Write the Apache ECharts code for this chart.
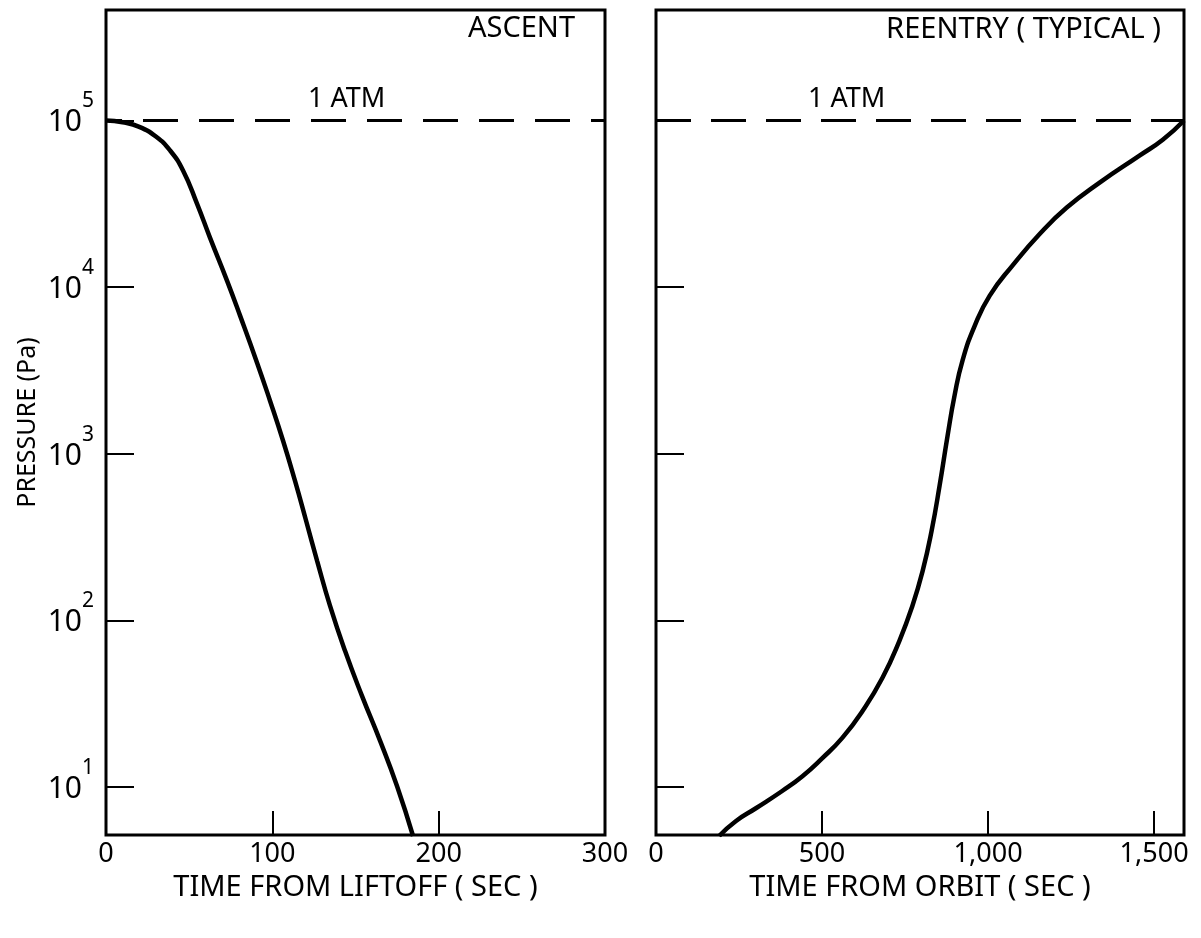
<!DOCTYPE html>
<html>
<head>
<meta charset="utf-8">
<script src="https://cdn.jsdelivr.net/npm/echarts@6/dist/echarts.min.js"></script>
<style>
  html, body { margin: 0; padding: 0; background: #fff; }
  #chart { width: 1201px; height: 938px; }
</style>
</head>
<body>
<div id="chart"></div>
<script>
  // ascent: time from liftoff (s) vs pressure (Pa)
  const ascentTime = [0, 10, 20, 30, 38.5, 46.3, 54.7, 62.5, 72.8, 80.6, 90.8, 98.6, 106.4, 113.6, 120.3, 127, 134.7, 143.7, 153.9, 164.8, 175, 184.6];
  const ascentPressure = [100000, 97500, 91500, 80000, 66100, 50100, 31700, 19800, 10900, 6740, 3520, 2080, 1200, 689, 396, 226, 122, 65.6, 35.2, 18.9, 10.1, 5.08];

  // reentry: time from orbit (s) vs pressure (Pa)
  const reentryTime = [190, 241, 302, 380, 441, 501, 561, 622, 682, 733, 772, 803, 830, 854, 878, 899, 923, 960, 1005, 1074, 1156, 1237, 1337, 1457, 1527, 1590];
  const reentryPressure = [5.08, 6.25, 7.48, 9.46, 11.6, 14.9, 19.7, 28.6, 45.2, 75.4, 122, 198, 345, 643, 1280, 2230, 3620, 5870, 8890, 13500, 20900, 30000, 42500, 61700, 76900, 100000];

  const atmPressure = 100000;
  const ascentRange = [0, 300];
  const reentryRange = [0, 1590];
  const pressureRange = [5.15, 460000];
  const decadeExponents = ['1', '2', '3', '4', '5'];

  const font = 'Noto Sans';
  const black = '#000';

  function pairs(xs, ys) {
    return xs.map(function (x, i) { return [x, ys[i]]; });
  }

  // label 10^n with superscript, only on whole decades
  function powLabel(v) {
    const e = Math.round(Math.log10(v));
    if (Math.abs(Math.log10(v) - e) > 1e-6) return '';
    const s = String(e);
    if (decadeExponents.indexOf(s) < 0) return '';
    return '{b|10}{s|' + s + '}';
  }

  const chart = echarts.init(document.getElementById('chart'));

  const yBase = {
    type: 'log',
    logBase: 10,
    min: pressureRange[0],
    max: pressureRange[1],
    axisLine: { show: false },
    splitLine: { show: false },
    minorTick: { show: false },
    axisTick: { show: true, inside: true, length: 28, lineStyle: { color: black, width: 2 } }
  };

  const xName = { fontFamily: font, fontSize: 29, color: black };
  const xTick = { show: true, inside: true, length: 24, lineStyle: { color: black, width: 2 } };

  const option = {
    backgroundColor: '#fff',
    animation: false,
    grid: [
      { left: 106, top: 10, width: 499, height: 825, show: true, borderColor: black, borderWidth: 3 },
      { left: 656, top: 10, width: 528, height: 825, show: true, borderColor: black, borderWidth: 3 }
    ],
    xAxis: [
      {
        type: 'value', gridIndex: 0,
        min: ascentRange[0], max: ascentRange[1], interval: 100,
        name: 'TIME FROM LIFTOFF ( SEC )',
        nameLocation: 'middle', nameGap: 36,
        nameTextStyle: xName,
        axisLine: { show: false },
        splitLine: { show: false },
        axisTick: xTick,
        axisLabel: { fontFamily: font, fontSize: 27, color: black, margin: 6 }
      },
      {
        type: 'value', gridIndex: 1,
        min: reentryRange[0], max: reentryRange[1], interval: 500,
        name: 'TIME FROM ORBIT ( SEC )',
        nameLocation: 'middle', nameGap: 36,
        nameTextStyle: xName,
        axisLine: { show: false },
        splitLine: { show: false },
        axisTick: xTick,
        axisLabel: {
          fontFamily: font, fontSize: 27, color: black, margin: 6,
          showMaxLabel: false,
          formatter: function (v) { return v.toLocaleString('en-US'); }
        }
      }
    ],
    yAxis: [
      Object.assign({}, yBase, {
        gridIndex: 0,
        name: 'PRESSURE (Pa)',
        nameLocation: 'middle', nameGap: 66, nameRotate: 90,
        nameTextStyle: { fontFamily: font, fontSize: 25, color: black },
        axisLabel: {
          show: true, margin: 12,
          padding: [0, 0, 12, 0],
          showMinLabel: false, showMaxLabel: false,
          formatter: powLabel,
          rich: {
            b: { fontFamily: font, fontSize: 30, color: black, padding: [17, 0, 0, 0], verticalAlign: 'bottom' },
            s: { fontFamily: font, fontSize: 21, color: black, verticalAlign: 'top' }
          }
        }
      }),
      Object.assign({}, yBase, {
        gridIndex: 1,
        axisLabel: { show: false }
      })
    ],
    graphic: [
      { type: 'text', right: 626, top: 14, style: { text: 'ASCENT', font: '29px "Noto Sans"', fill: black } },
      { type: 'text', right: 40, top: 15, style: { text: 'REENTRY ( TYPICAL )', font: '29px "Noto Sans"', fill: black } },
      { type: 'text', left: 308, top: 86, style: { text: '1 ATM', font: '27px "Noto Sans"', fill: black } },
      { type: 'text', left: 808, top: 86, style: { text: '1 ATM', font: '27px "Noto Sans"', fill: black } }
    ],
    series: [
      {
        type: 'line', xAxisIndex: 0, yAxisIndex: 0,
        data: [[ascentRange[0], atmPressure], [ascentRange[1], atmPressure]],
        showSymbol: false, silent: true,
        lineStyle: { color: black, width: 3, type: [35, 21], dashOffset: 19 }
      },
      {
        type: 'line', xAxisIndex: 1, yAxisIndex: 1,
        data: [[reentryRange[0], atmPressure], [reentryRange[1], atmPressure]],
        showSymbol: false, silent: true,
        lineStyle: { color: black, width: 3, type: [35, 20] }
      },
      {
        type: 'line', xAxisIndex: 0, yAxisIndex: 0,
        data: pairs(ascentTime, ascentPressure),
        smooth: 0.5, smoothConstraint: false, showSymbol: false,
        lineStyle: { color: black, width: 4.5 }
      },
      {
        type: 'line', xAxisIndex: 1, yAxisIndex: 1,
        data: pairs(reentryTime, reentryPressure),
        smooth: 0.5, smoothConstraint: false, showSymbol: false,
        lineStyle: { color: black, width: 4.5 }
      }
    ]
  };

  chart.setOption(option);
  window.addEventListener('resize', function () { chart.resize(); });
</script>
</body>
</html>
